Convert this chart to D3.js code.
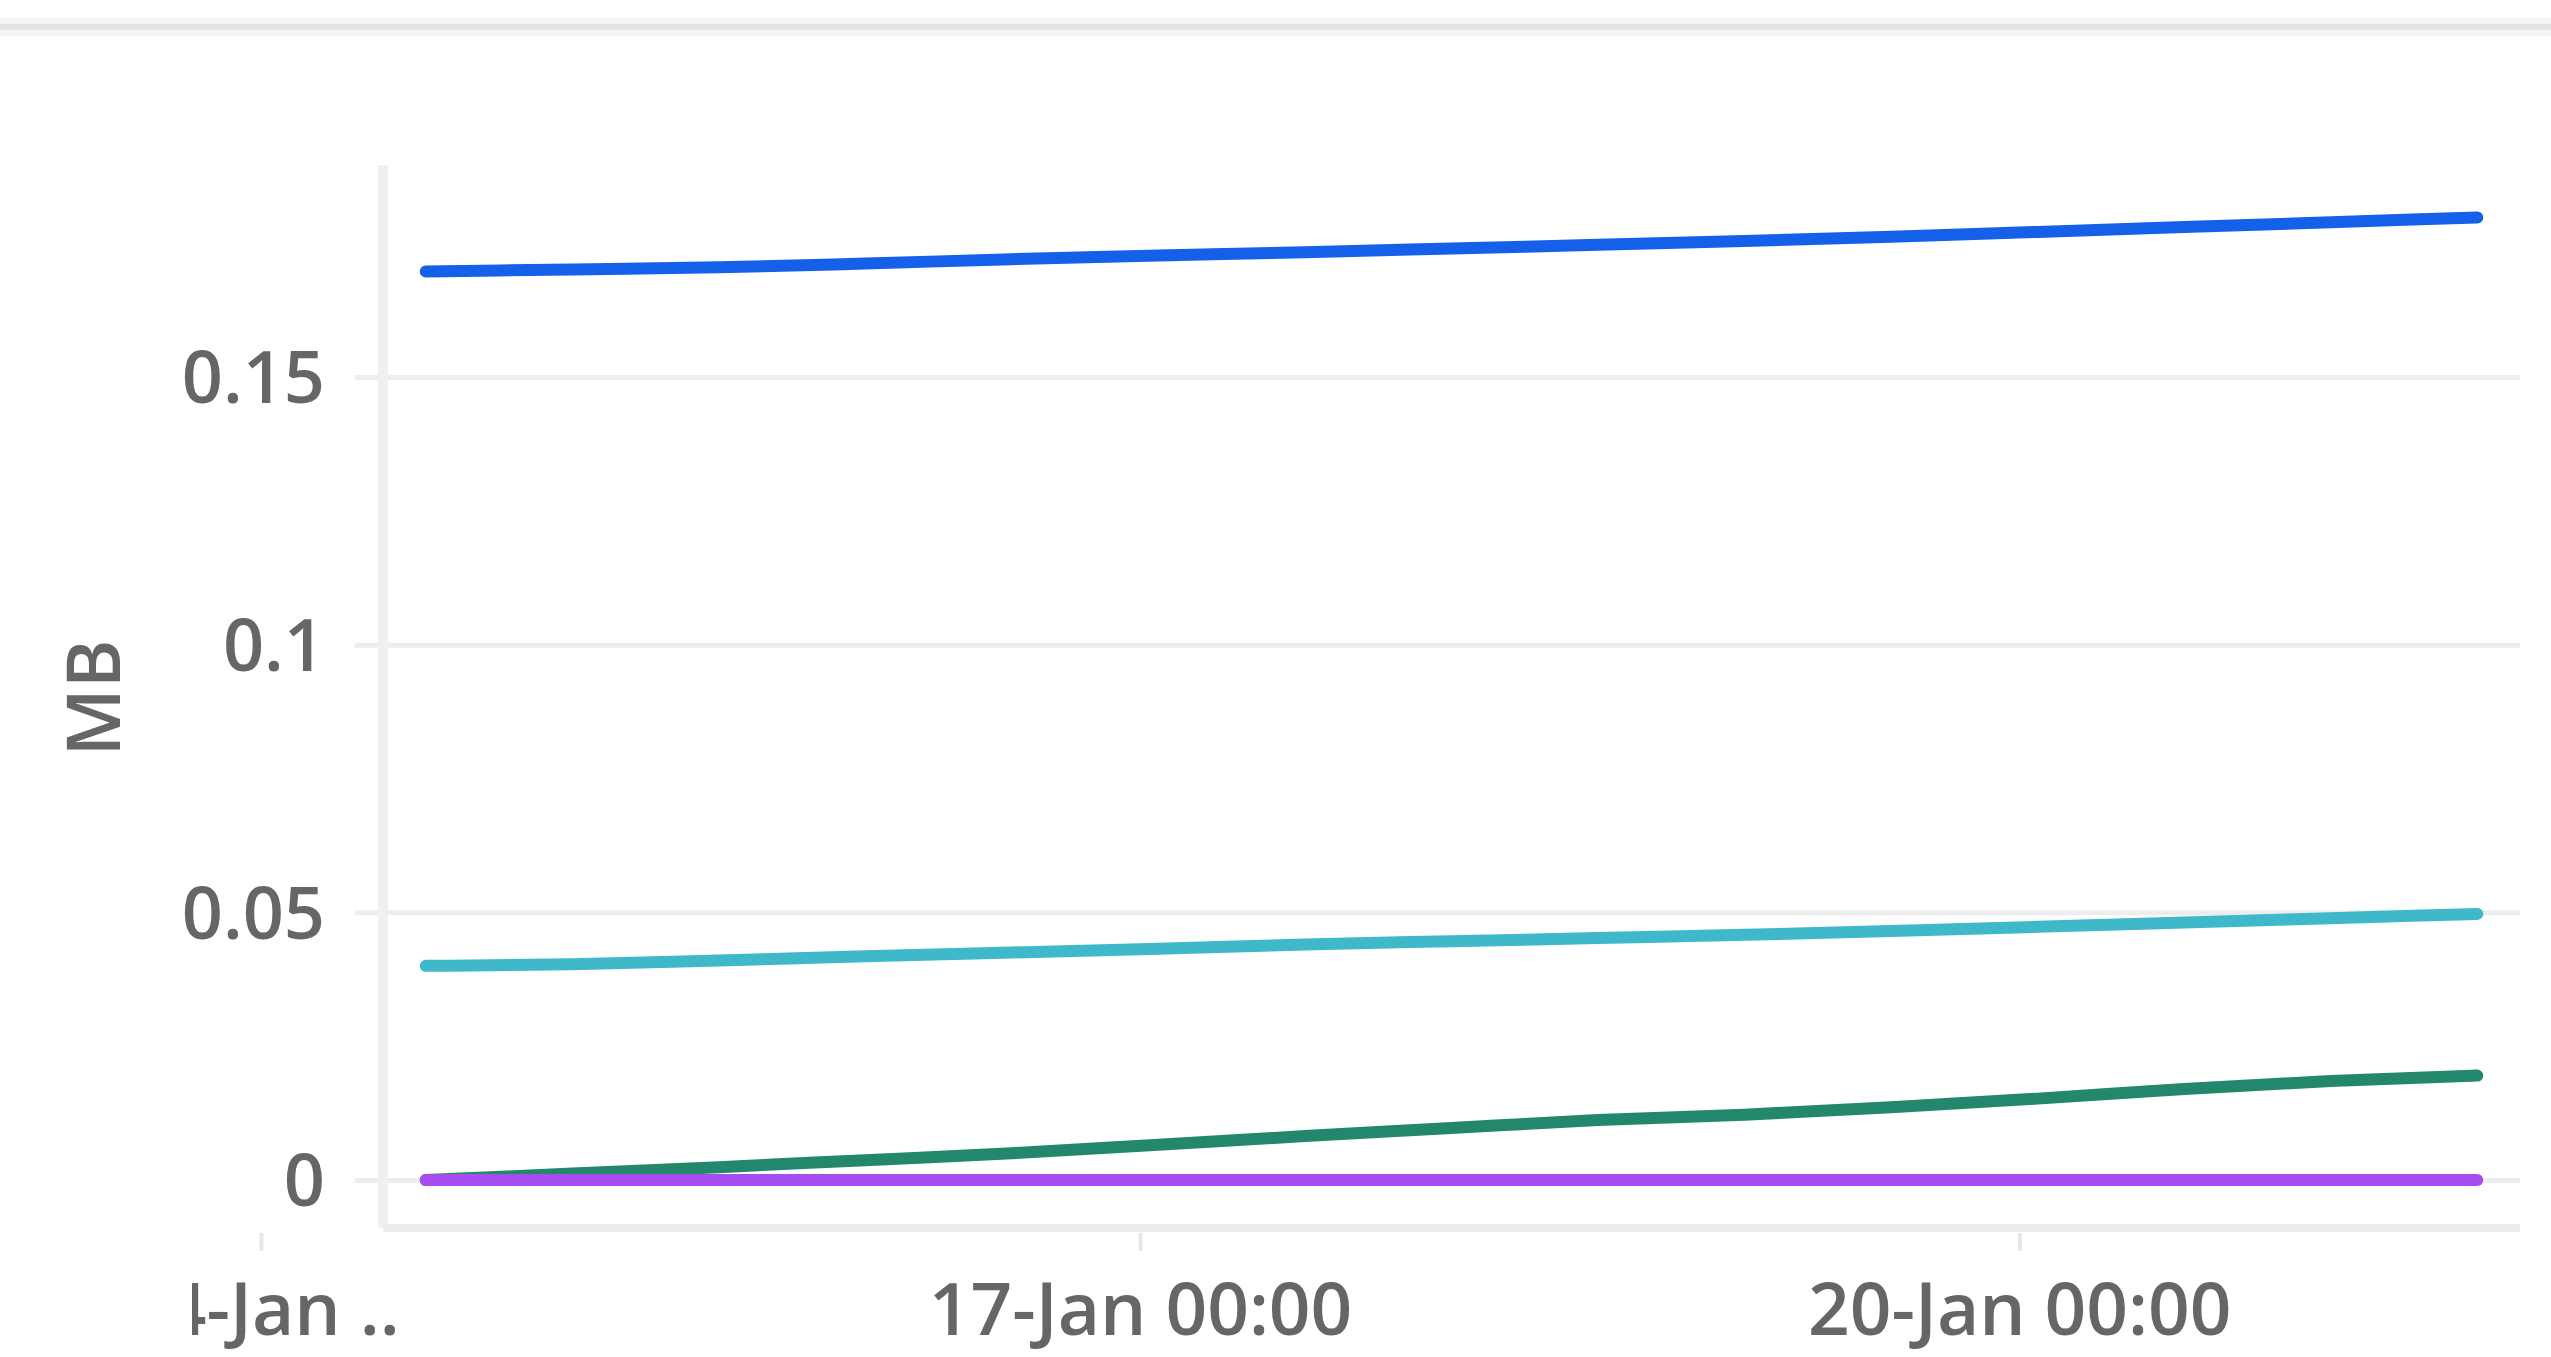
<!DOCTYPE html>
<html>
<head>
<meta charset="utf-8">
<script src="https://cdn.jsdelivr.net/npm/d3@7"></script>
<style>
  body { margin: 0; background: #fff; }
  text { font-family: "Open Sans", sans-serif; fill: #666666; font-weight: 600; }
</style>
</head>
<body>
<script>
// sample times, every 12 hours
var times = ["2021-01-14T13:30", "2021-01-15T01:30", "2021-01-15T13:30", "2021-01-16T01:30",
             "2021-01-16T13:30", "2021-01-17T01:30", "2021-01-17T13:30", "2021-01-18T01:30",
             "2021-01-18T13:30", "2021-01-19T01:30", "2021-01-19T13:30", "2021-01-20T01:30",
             "2021-01-20T13:30", "2021-01-21T01:30", "2021-01-21T13:30"];

// series values in MB
var blueValues   = [0.1697, 0.1701, 0.1705, 0.1712, 0.1720, 0.1727, 0.1733, 0.1740,
                    0.1747, 0.1754, 0.1762, 0.1771, 0.1780, 0.1789, 0.1798];
var cyanValues   = [0.0400, 0.0403, 0.0410, 0.0418, 0.0425, 0.0432, 0.0440, 0.0446,
                    0.0452, 0.0458, 0.0465, 0.0473, 0.0481, 0.0489, 0.0497];
var greenValues  = [0, 0.0012, 0.0024, 0.0037, 0.0050, 0.0066, 0.0082, 0.0097,
                    0.0112, 0.0122, 0.0136, 0.0152, 0.0170, 0.0185, 0.0195];
var purpleValues = [0, 0, 0, 0, 0, 0, 0, 0, 0, 0, 0, 0, 0, 0, 0];

var seriesColors = ["#1560e8", "#3fb8c9", "#23876b", "#a64df0"];

// tick labels
var yTicks = [0, 0.05, 0.1, 0.15];
var yTickLabels = ["0", "0.05", "0.1", "0.15"];
var xTicks = ["2021-01-14T00:00", "2021-01-17T00:00", "2021-01-20T00:00"];
var xTickLabels = ["14-Jan ..", "17-Jan 00:00", "20-Jan 00:00"];
var yAxisTitle = "MB";

drawChart();

function drawChart(){
    var width = 2551,
        height = 1357;

    var plotLeft = 383, plotRight = 2520,
        plotTop = 165, plotBottom = 1228;

    var parse = d3.timeParse("%Y-%m-%dT%H:%M");

    var svg = d3.select("body")
        .append("svg")
        .attr("width", width)
        .attr("height", height);

    //panel border at the top
    svg.append("line")
        .attr("x1", 0).attr("x2", width)
        .attr("y1", 27).attr("y2", 27)
        .attr("stroke", "#f4f4f4")
        .attr("stroke-width", 18);
    svg.append("line")
        .attr("x1", 0).attr("x2", width)
        .attr("y1", 27).attr("y2", 27)
        .attr("stroke", "#e3e3e3")
        .attr("stroke-width", 6);

    var x = d3.scaleTime()
        .domain([parse("2021-01-14T10:00"), parse("2021-01-21T17:00")])
        .range([plotLeft, plotRight]);

    var y = d3.scaleLinear()
        .domain([0, 0.15])
        .range([1180, 377]);

    //gridlines with their left tick stubs
    var yAxis = d3.axisLeft(y)
        .tickValues(yTicks)
        .tickSize(-(plotRight - 355))
        .tickFormat(function(d, i){ return yTickLabels[i]; });

    var yg = svg.append("g")
        .attr("transform", "translate(355,0)")
        .call(yAxis);
    yg.select(".domain").remove();
    yg.selectAll(".tick line")
        .attr("stroke", "#ededed")
        .attr("stroke-width", 5);
    yg.selectAll(".tick text")
        .attr("x", -30)
        .attr("dy", "0.36em")
        .style("font-size", "72px");

    //axis lines
    svg.append("line")
        .attr("x1", plotLeft).attr("x2", plotLeft)
        .attr("y1", plotTop).attr("y2", plotBottom)
        .attr("stroke", "#f0f0f0")
        .attr("stroke-width", 10);
    svg.append("line")
        .attr("x1", plotLeft).attr("x2", plotRight)
        .attr("y1", plotBottom).attr("y2", plotBottom)
        .attr("stroke", "#ededed")
        .attr("stroke-width", 8);

    //x axis, labels clipped on the left like the panel edge
    svg.append("clipPath")
        .attr("id", "xclip")
        .append("rect")
        .attr("x", 192).attr("y", -20)
        .attr("width", width).attr("height", 200);

    var xAxis = d3.axisBottom(x)
        .tickValues(xTicks.map(parse))
        .tickSize(18)
        .tickPadding(32)
        .tickFormat(function(d, i){ return xTickLabels[i]; });

    var xg = svg.append("g")
        .attr("transform", "translate(0," + (plotBottom + 5) + ")")
        .attr("clip-path", "url(#xclip)")
        .call(xAxis);
    xg.select(".domain").remove();
    xg.selectAll(".tick line")
        .attr("stroke", "#e6e6e6")
        .attr("stroke-width", 4);
    xg.selectAll(".tick text")
        .attr("dy", "0.71em")
        .style("font-size", "73px");

    //y axis title
    svg.append("text")
        .attr("transform", "translate(120,698) rotate(-90)")
        .attr("text-anchor", "middle")
        .style("font-size", "74px")
        .text(yAxisTitle);

    //lines
    var dates = times.map(parse);
    var allSeries = [blueValues, cyanValues, greenValues, purpleValues];

    var line = d3.line()
        .x(function(d, i){ return x(dates[i]); })
        .y(function(d){ return y(d); })
        .curve(d3.curveMonotoneX);

    svg.selectAll(".series")
        .data(allSeries)
        .enter()
        .append("path")
        .attr("class", "series")
        .attr("d", line)
        .attr("fill", "none")
        .attr("stroke", function(d, i){ return seriesColors[i]; })
        .attr("stroke-width", 12)
        .attr("stroke-linecap", "round")
        .attr("stroke-linejoin", "round");
}
</script>
</body>
</html>
